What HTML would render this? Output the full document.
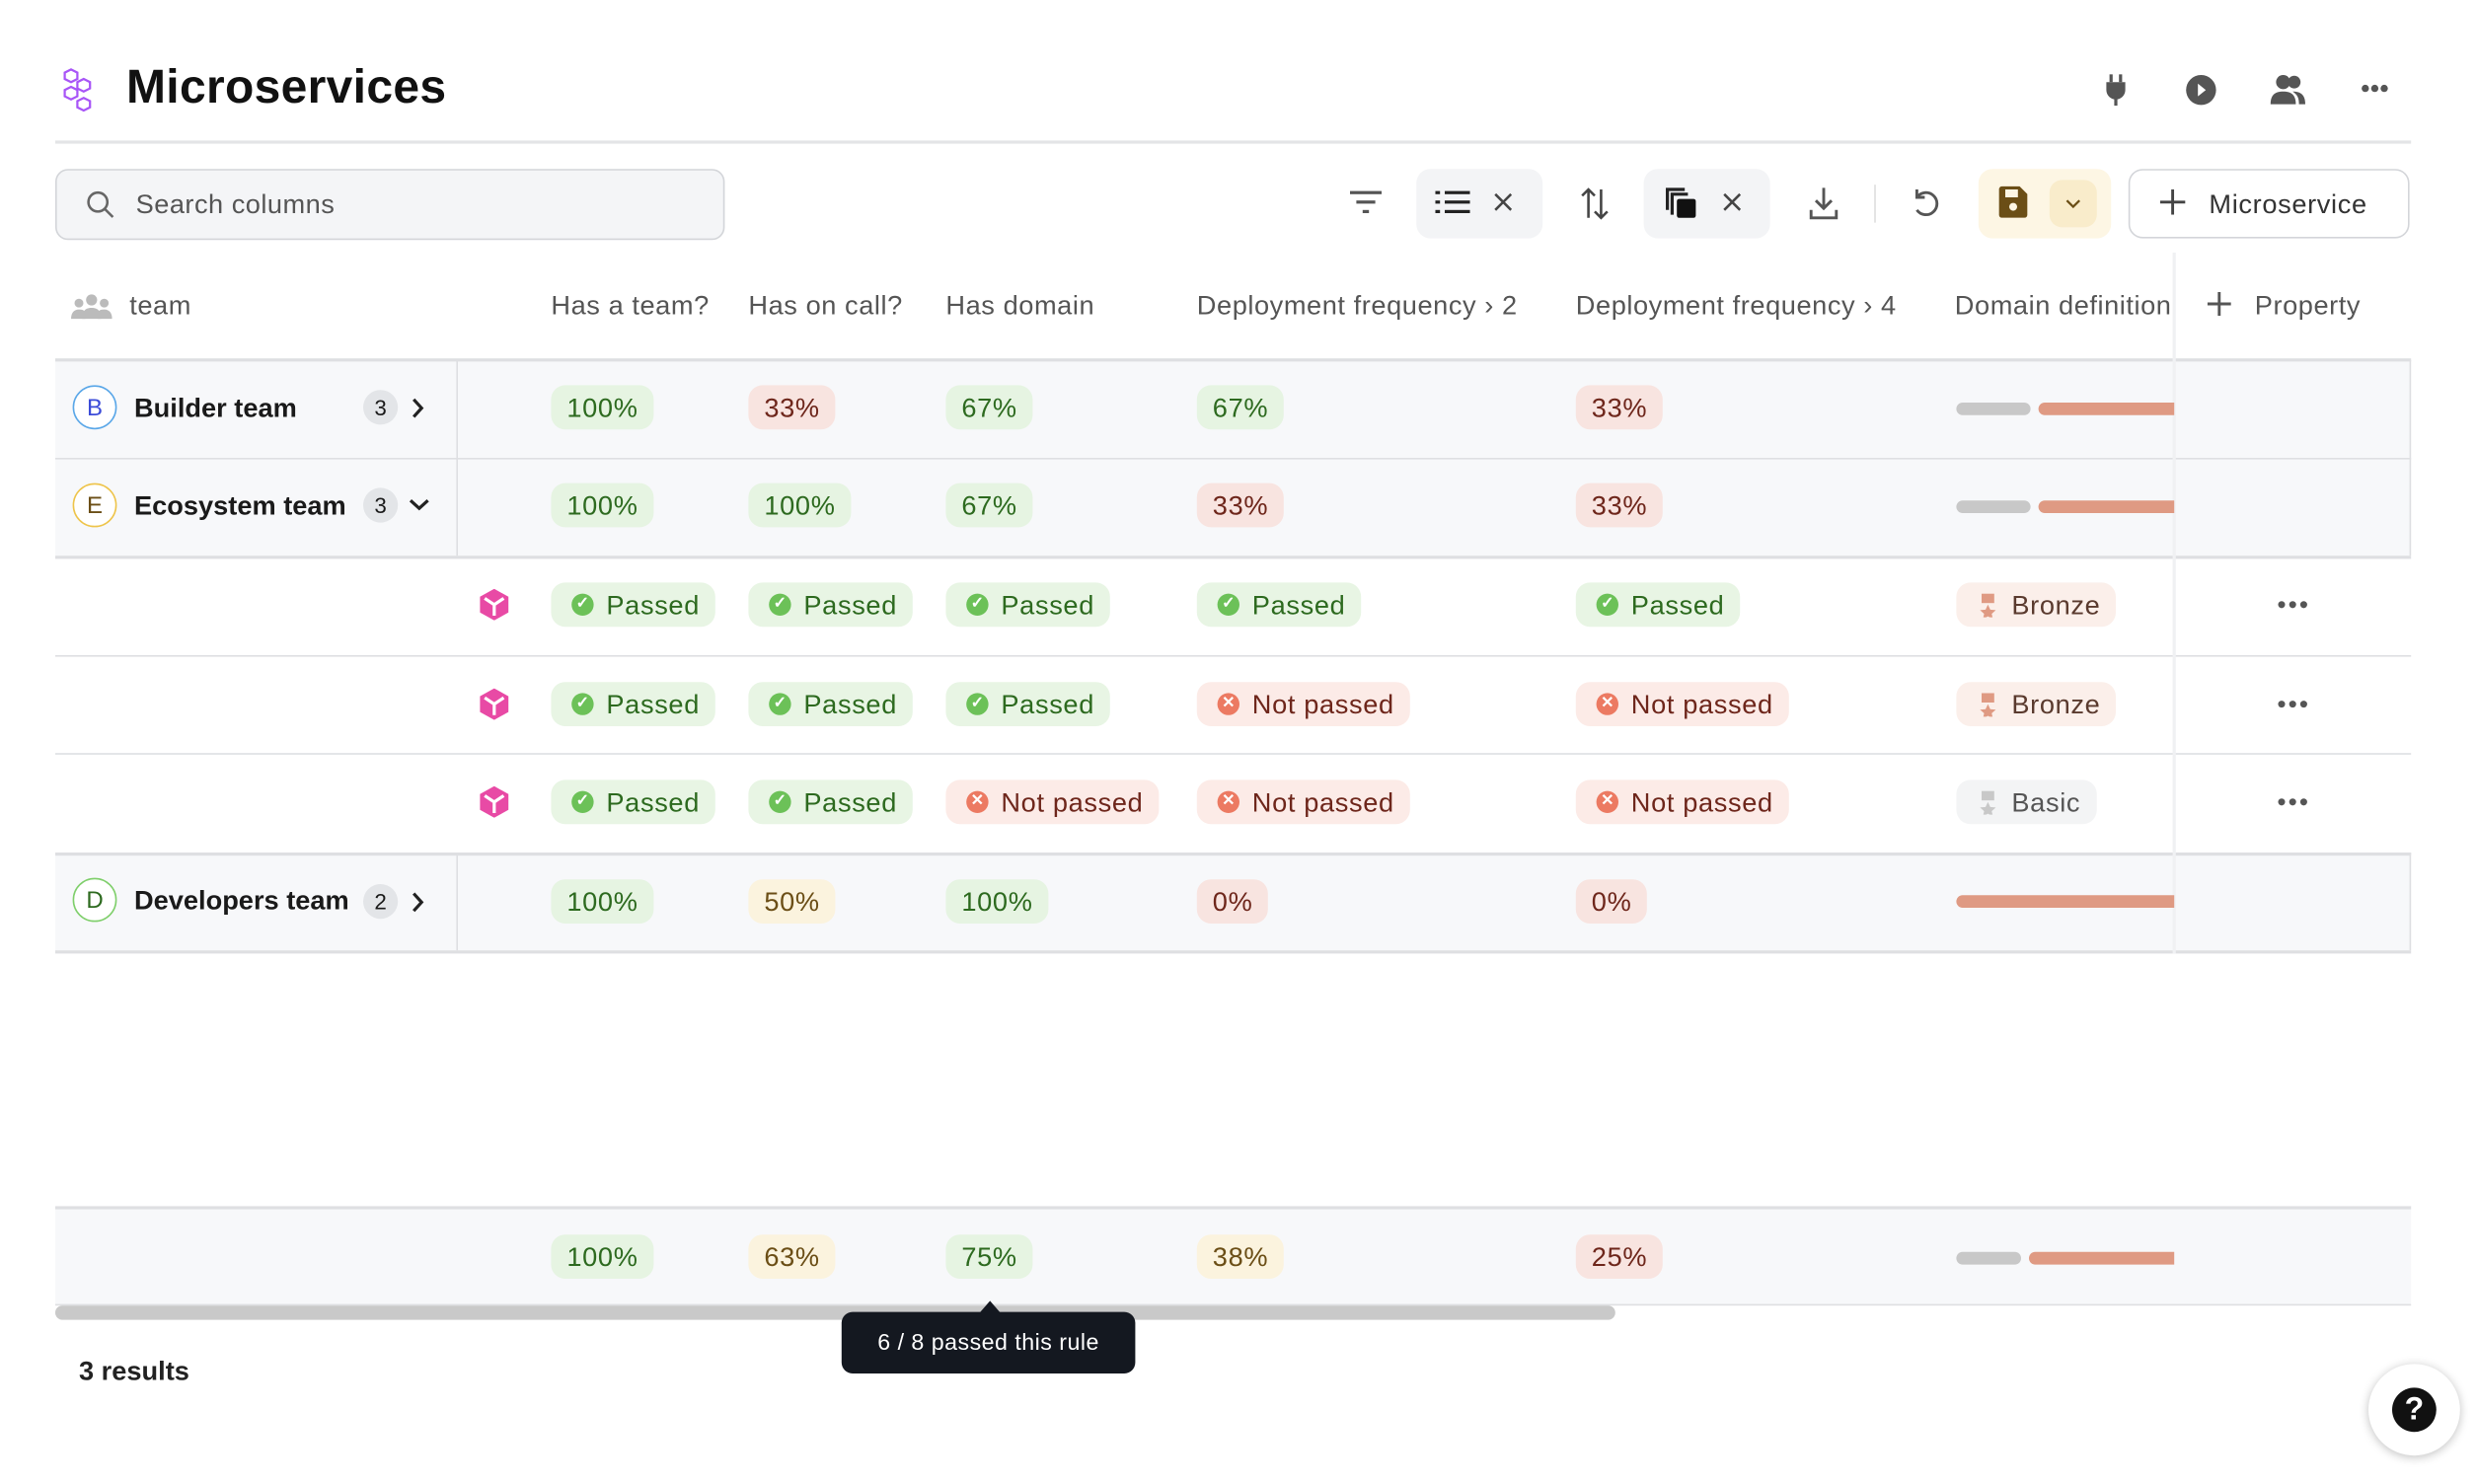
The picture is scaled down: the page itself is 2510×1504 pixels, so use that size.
<!DOCTYPE html>
<html><head><meta charset="utf-8"><style>
html,body{margin:0;padding:0;background:#fff;overflow:hidden}
body{width:2510px;height:1504px;position:relative}
#s{position:absolute;left:0;top:0;width:1569px;height:940px;transform:scale(1.6);transform-origin:0 0;font-family:"Liberation Sans",sans-serif;color:#1a1a1a}
.a{position:absolute}
.hd{position:absolute;top:184px;font-size:17px;letter-spacing:0.35px;color:#555;white-space:nowrap}
.line{position:absolute;left:35px;width:1492px;height:1px;background:#dedfe2}
.grp{position:absolute;left:35px;width:1492px;background:#f7f8fa}
.b{position:absolute;height:28px;line-height:29px;border-radius:9px;padding:0 10px;font-size:17px;letter-spacing:0.4px;white-space:nowrap}
.g{background:#e6f4e2;color:#2d6a1f}
.r{background:#f8e4e0;color:#6e261b}
.y{background:#fbf3de;color:#6b4e16}
.pg{background:#e8f5e4;color:#2d6a1f;padding-left:35px}
.pr{background:#fcebe7;color:#6e261b;padding-left:35px}
.ic{position:absolute;left:13px;top:7px;width:14px;height:14px;border-radius:50%;color:#fff;font-size:10px;line-height:14px;text-align:center;font-weight:bold;letter-spacing:0}
.pg .ic{background:#6cc158}
.pr .ic{background:#ec7a62}
.circ{position:absolute;left:46px;width:26px;height:26px;border-radius:50%;border:1.5px solid;font-size:15px;line-height:27px;text-align:center;background:#fff}
.nm{position:absolute;left:85px;font-size:17px;font-weight:bold;color:#1a1a1a}
.cnt{position:absolute;width:22px;height:22px;border-radius:11px;background:#e3e5e8;font-size:14px;line-height:23px;text-align:center}
.chev{position:absolute}
.cube{position:absolute;left:303px;width:20px;height:20px}
.dots{position:absolute;left:1442px;width:20px;height:6px}
.bar{position:absolute;height:8px;border-radius:4px}
</style></head><body><div id="s">

<!-- title -->
<svg class="a" style="left:40px;top:42px" width="26" height="30" viewBox="0 0 26 30" fill="none" stroke="#a855f7" stroke-width="1.4"><path d="M5 2l4 2v4l-4 2-4-2V4z"/><path d="M13 8l4 2v4l-4 2-4-2v-4z"/><path d="M5 13l4 2v4l-4 2-4-2v-4z"/><path d="M13 20l4 2v4l-4 2-4-2v-4z"/></svg>
<div class="a" style="left:80px;top:39px;font-size:30px;font-weight:bold;letter-spacing:0.2px;color:#111">Microservices</div>
<!-- top right icons -->
<svg class="a" style="left:1331px;top:47px" width="18" height="20" viewBox="0 0 18 20"><rect x="5" y="0" width="2" height="5" fill="#555"/><rect x="11" y="0" width="2" height="5" fill="#555"/><path d="M3 5h12v5a6 6 0 0 1-12 0z" fill="#555"/><rect x="8" y="14" width="2" height="6" fill="#555"/></svg>
<svg class="a" style="left:1384px;top:47px" width="20" height="20"><circle cx="10" cy="10" r="9.5" fill="#555"/><path d="M8 6l5 4-5 4z" fill="#fff"/></svg>
<svg class="a" style="left:1437px;top:47px" width="24" height="20"><circle cx="9" cy="5" r="4.5" fill="#555"/><path d="M1 19c0-6 3-8 8-8s8 2 8 8z" fill="#555"/><circle cx="16" cy="5" r="4" fill="#555"/><path d="M15 11c5 0 8 2 8 8h-4c0-4-1-6-4-8z" fill="#555"/></svg>
<svg class="a" style="left:1495px;top:53px" width="18" height="6" fill="#555"><circle cx="3" cy="3" r="2.3"/><circle cx="9" cy="3" r="2.3"/><circle cx="15" cy="3" r="2.3"/></svg>
<div class="a" style="left:35px;top:89px;width:1492px;height:2px;background:#e3e4e6"></div>

<!-- search -->
<div class="a" style="left:35px;top:107px;width:422px;height:43px;border:1px solid #d3d5d9;border-radius:8px;background:#f4f5f7"></div>
<svg class="a" style="left:54px;top:120px" width="20" height="20" fill="none" stroke="#666" stroke-width="1.6"><circle cx="8" cy="8" r="6"/><path d="M12.5 12.5l5 5"/></svg>
<div class="a" style="left:86px;top:120px;font-size:17px;letter-spacing:0.3px;color:#555">Search columns</div>

<!-- toolbar -->
<svg class="a" style="left:855px;top:120px" width="20" height="16" fill="#555"><rect x="0" y="1" width="20" height="2"/><rect x="4" y="7" width="12" height="2"/><rect x="8" y="13" width="4" height="2"/></svg>
<div class="a" style="left:897px;top:107px;width:80px;height:44px;border-radius:9px;background:#f3f4f6"></div>
<svg class="a" style="left:909px;top:120px" width="22" height="16" fill="#222"><rect x="0" y="1" width="3" height="2"/><rect x="6" y="1" width="16" height="2"/><rect x="0" y="7" width="3" height="2"/><rect x="6" y="7" width="16" height="2"/><rect x="0" y="13" width="3" height="2"/><rect x="6" y="13" width="16" height="2"/></svg>
<svg class="a" style="left:946px;top:122px" width="12" height="12" stroke="#444" stroke-width="1.6"><path d="M1 1l10 10M11 1L1 11"/></svg>
<svg class="a" style="left:1001px;top:118px" width="18" height="22" fill="none" stroke="#444" stroke-width="1.6"><path d="M5 20V2M1 6l4-4 4 4M13 2v18M9 16l4 4 4-4"/></svg>
<div class="a" style="left:1041px;top:107px;width:80px;height:44px;border-radius:9px;background:#f3f4f6"></div>
<svg class="a" style="left:1053px;top:117px" width="22" height="22"><path d="M2 2h12v2H4v12H2z" fill="#222"/><path d="M5 5h11v2H7v12H5z" fill="#222"/><rect x="9" y="9" width="12" height="12" rx="1.5" fill="#111"/></svg>
<svg class="a" style="left:1091px;top:122px" width="12" height="12" stroke="#444" stroke-width="1.6"><path d="M1 1l10 10M11 1L1 11"/></svg>
<svg class="a" style="left:1145px;top:118px" width="20" height="22" fill="none" stroke="#555" stroke-width="1.8"><path d="M10 1v13M5 9l5 5 5-5M2 15v5h16v-5"/></svg>
<div class="a" style="left:1187px;top:117px;width:1px;height:24px;background:#ddd"></div>
<svg class="a" style="left:1210px;top:118px" width="20" height="22" fill="none" stroke="#555" stroke-width="1.8"><path d="M4 7a7 7 0 1 1 0 8"/><path d="M4 2v5h5"/></svg>
<div class="a" style="left:1253px;top:107px;width:84px;height:44px;border-radius:9px;background:#fdf6e4"></div>
<div class="a" style="left:1298px;top:114px;width:30px;height:30px;border-radius:8px;background:#f9eccb"></div>
<svg class="a" style="left:1266px;top:118px" width="18" height="20"><path d="M0 2a2 2 0 0 1 2-2h11l5 5v13a2 2 0 0 1-2 2H2a2 2 0 0 1-2-2z" fill="#6b4e16"/><rect x="4" y="2" width="8" height="5" fill="#fdf6e4"/><circle cx="9" cy="13" r="2.5" fill="#fdf6e4"/></svg>
<svg class="a" style="left:1308px;top:126px" width="10" height="6" fill="none" stroke="#6b4e16" stroke-width="1.4"><path d="M1 1l4 4 4-4"/></svg>
<div class="a" style="left:1348px;top:107px;width:176px;height:42px;border:1.5px solid #d3d5d9;border-radius:9px;background:#fff"></div>
<svg class="a" style="left:1368px;top:120px" width="16" height="16" stroke="#444" stroke-width="1.8"><path d="M8 0v16M0 8h16"/></svg>
<div class="a" style="left:1399px;top:120px;font-size:17px;letter-spacing:0.4px;color:#333">Microservice</div>

<!-- header -->
<svg class="a" style="left:45px;top:186px" width="26" height="16" fill="#bbb"><circle cx="13" cy="4" r="3.5"/><circle cx="5" cy="6" r="2.8"/><circle cx="21" cy="6" r="2.8"/><path d="M7 16c0-5 2-7 6-7s6 2 6 7z"/><path d="M0 16c0-4 2-6 5-6s4 1 4 3v3z"/><path d="M26 16c0-4-2-6-5-6s-4 1-4 3v3z"/></svg>
<div class="hd" style="left:82px">team</div>
<div class="hd" style="left:349px">Has a team?</div>
<div class="hd" style="left:474px">Has on call?</div>
<div class="hd" style="left:599px">Has domain</div>
<div class="hd" style="left:758px">Deployment frequency › 2</div>
<div class="hd" style="left:998px">Deployment frequency › 4</div>
<div class="hd" style="left:1238px;width:138px;overflow:hidden">Domain definition</div>
<svg class="a" style="left:1398px;top:185px" width="15" height="15" stroke="#555" stroke-width="1.8"><path d="M7.5 0v15M0 7.5h15"/></svg>
<div class="hd" style="left:1428px">Property</div>

<!-- rows backgrounds -->
<div class="grp" style="top:228px;height:124px"></div>
<div class="grp" style="top:540px;height:62px"></div>
<div class="line" style="top:227px;height:2px"></div>
<div class="line" style="top:290px"></div>
<div class="line" style="top:352px;height:2px"></div>
<div class="line" style="top:415px"></div>
<div class="line" style="top:477px"></div>
<div class="line" style="top:540px;height:2px"></div>
<div class="line" style="top:602px;height:2px"></div>
<div class="a" style="left:289px;top:228px;width:1px;height:124px;background:#dedfe2"></div>
<div class="a" style="left:289px;top:540px;width:1px;height:62px;background:#dedfe2"></div>
<div class="a" style="left:1376px;top:160px;width:2px;height:444px;background:#f0f1f3"></div>
<div class="a" style="left:1376px;top:765px;width:2px;height:61px;background:#eceef0"></div>
<div class="a" style="left:1526px;top:228px;width:1px;height:124px;background:#dedfe2"></div>
<div class="a" style="left:1526px;top:540px;width:1px;height:62px;background:#dedfe2"></div>

<!-- Builder -->
<div class="circ" style="top:244px;border-color:#5aa7e8;color:#3b4bd8">B</div>
<div class="nm" style="top:249px">Builder team</div>
<div class="cnt" style="left:230px;top:247px">3</div>
<svg class="chev" style="left:261px;top:252px" width="8" height="13" fill="none" stroke="#222" stroke-width="2"><path d="M1 1l5 5.5L1 12"/></svg>
<div class="b g" style="left:349px;top:244px">100%</div>
<div class="b r" style="left:474px;top:244px">33%</div>
<div class="b g" style="left:599px;top:244px">67%</div>
<div class="b g" style="left:758px;top:244px">67%</div>
<div class="b r" style="left:998px;top:244px">33%</div>
<div class="bar" style="left:1239px;top:255px;width:47px;background:#c8c8c8"></div>
<div class="bar" style="left:1291px;top:255px;width:86px;background:#df9a83;border-radius:4px 0 0 4px"></div>

<!-- Ecosystem -->
<div class="circ" style="top:306px;border-color:#eec44a;color:#6b4e16">E</div>
<div class="nm" style="top:311px">Ecosystem team</div>
<div class="cnt" style="left:230px;top:309px">3</div>
<svg class="chev" style="left:259px;top:316px" width="13" height="8" fill="none" stroke="#222" stroke-width="2"><path d="M1 1l5.5 5L12 1"/></svg>
<div class="b g" style="left:349px;top:306px">100%</div>
<div class="b g" style="left:474px;top:306px">100%</div>
<div class="b g" style="left:599px;top:306px">67%</div>
<div class="b r" style="left:758px;top:306px">33%</div>
<div class="b r" style="left:998px;top:306px">33%</div>
<div class="bar" style="left:1239px;top:317px;width:47px;background:#c8c8c8"></div>
<div class="bar" style="left:1291px;top:317px;width:86px;background:#df9a83;border-radius:4px 0 0 4px"></div>

<!-- service rows -->
<svg class="cube" style="top:373px" viewBox="0 0 20 20"><path d="M10 0l9 5v10l-9 5-9-5V5z" fill="#e84aa5"/><path d="M4 6l6 4 6-4M10 10v7" stroke="#fff" stroke-width="2" fill="none"/></svg>
<div class="b pg" style="left:349px;top:369px"><span class="ic">✓</span>Passed</div>
<div class="b pg" style="left:474px;top:369px"><span class="ic">✓</span>Passed</div>
<div class="b pg" style="left:599px;top:369px"><span class="ic">✓</span>Passed</div>
<div class="b pg" style="left:758px;top:369px"><span class="ic">✓</span>Passed</div>
<div class="b pg" style="left:998px;top:369px"><span class="ic">✓</span>Passed</div>
<div class="b" style="left:1239px;top:369px;background:#fbefea;color:#5a3a2e;padding-left:35px"><svg class="a" style="left:15px;top:7px" width="10" height="15" fill="#df9a83"><rect x="1" y="0" width="8" height="6"/><path d="M5 7l1.5 3.2 3.5.3-2.6 2.3.8 3.4L5 14.4 1.8 16.2l.8-3.4L0 10.5l3.5-.3z"/></svg>Bronze</div>
<svg class="dots" style="top:380px" viewBox="0 0 20 6" fill="#555"><circle cx="3" cy="3" r="2.2"/><circle cx="10" cy="3" r="2.2"/><circle cx="17" cy="3" r="2.2"/></svg>

<svg class="cube" style="top:436px" viewBox="0 0 20 20"><path d="M10 0l9 5v10l-9 5-9-5V5z" fill="#e84aa5"/><path d="M4 6l6 4 6-4M10 10v7" stroke="#fff" stroke-width="2" fill="none"/></svg>
<div class="b pg" style="left:349px;top:432px"><span class="ic">✓</span>Passed</div>
<div class="b pg" style="left:474px;top:432px"><span class="ic">✓</span>Passed</div>
<div class="b pg" style="left:599px;top:432px"><span class="ic">✓</span>Passed</div>
<div class="b pr" style="left:758px;top:432px"><span class="ic">✕</span>Not passed</div>
<div class="b pr" style="left:998px;top:432px"><span class="ic">✕</span>Not passed</div>
<div class="b" style="left:1239px;top:432px;background:#fbefea;color:#5a3a2e;padding-left:35px"><svg class="a" style="left:15px;top:7px" width="10" height="15" fill="#df9a83"><rect x="1" y="0" width="8" height="6"/><path d="M5 7l1.5 3.2 3.5.3-2.6 2.3.8 3.4L5 14.4 1.8 16.2l.8-3.4L0 10.5l3.5-.3z"/></svg>Bronze</div>
<svg class="dots" style="top:443px" viewBox="0 0 20 6" fill="#555"><circle cx="3" cy="3" r="2.2"/><circle cx="10" cy="3" r="2.2"/><circle cx="17" cy="3" r="2.2"/></svg>

<svg class="cube" style="top:498px" viewBox="0 0 20 20"><path d="M10 0l9 5v10l-9 5-9-5V5z" fill="#e84aa5"/><path d="M4 6l6 4 6-4M10 10v7" stroke="#fff" stroke-width="2" fill="none"/></svg>
<div class="b pg" style="left:349px;top:494px"><span class="ic">✓</span>Passed</div>
<div class="b pg" style="left:474px;top:494px"><span class="ic">✓</span>Passed</div>
<div class="b pr" style="left:599px;top:494px"><span class="ic">✕</span>Not passed</div>
<div class="b pr" style="left:758px;top:494px"><span class="ic">✕</span>Not passed</div>
<div class="b pr" style="left:998px;top:494px"><span class="ic">✕</span>Not passed</div>
<div class="b" style="left:1239px;top:494px;background:#f3f4f5;color:#555;padding-left:35px"><svg class="a" style="left:15px;top:7px" width="10" height="15" fill="#c8c8c8"><rect x="1" y="0" width="8" height="6"/><path d="M5 7l1.5 3.2 3.5.3-2.6 2.3.8 3.4L5 14.4 1.8 16.2l.8-3.4L0 10.5l3.5-.3z"/></svg>Basic</div>
<svg class="dots" style="top:505px" viewBox="0 0 20 6" fill="#555"><circle cx="3" cy="3" r="2.2"/><circle cx="10" cy="3" r="2.2"/><circle cx="17" cy="3" r="2.2"/></svg>

<!-- Developers -->
<div class="circ" style="top:556px;border-color:#7fcf6b;color:#2d6a1f">D</div>
<div class="nm" style="top:561px">Developers team</div>
<div class="cnt" style="left:230px;top:560px">2</div>
<svg class="chev" style="left:261px;top:565px" width="8" height="13" fill="none" stroke="#222" stroke-width="2"><path d="M1 1l5 5.5L1 12"/></svg>
<div class="b g" style="left:349px;top:557px">100%</div>
<div class="b y" style="left:474px;top:557px">50%</div>
<div class="b g" style="left:599px;top:557px">100%</div>
<div class="b r" style="left:758px;top:557px">0%</div>
<div class="b r" style="left:998px;top:557px">0%</div>
<div class="bar" style="left:1239px;top:567px;width:138px;background:#df9a83;border-radius:4px 0 0 4px"></div>

<!-- footer -->
<div class="grp" style="top:765px;height:61px"></div>
<div class="line" style="top:764px;height:2px"></div>
<div class="line" style="top:826px"></div>
<div class="b g" style="left:349px;top:782px">100%</div>
<div class="b y" style="left:474px;top:782px">63%</div>
<div class="b g" style="left:599px;top:782px">75%</div>
<div class="b y" style="left:758px;top:782px">38%</div>
<div class="b r" style="left:998px;top:782px">25%</div>
<div class="bar" style="left:1239px;top:793px;width:41px;background:#c8c8c8"></div>
<div class="bar" style="left:1285px;top:793px;width:92px;background:#df9a83;border-radius:4px 0 0 4px"></div>
<div class="a" style="left:35px;top:827px;width:988px;height:9px;border-radius:5px;background:#c9c9c9"></div>

<!-- tooltip -->
<div class="a" style="left:620px;top:824px;width:0;height:0;border-left:7px solid transparent;border-right:7px solid transparent;border-bottom:8px solid #141820"></div>
<div class="a" style="left:533px;top:831px;width:186px;height:39px;border-radius:7px;background:#141820;color:#fff;font-size:14.5px;letter-spacing:0.3px;line-height:40px;text-align:center">6 / 8 passed this rule</div>

<div class="a" style="left:50px;top:859px;font-size:17px;font-weight:bold;color:#222">3 results</div>

<div class="a" style="left:1500px;top:864px;width:58px;height:58px;border-radius:50%;background:#fff;box-shadow:0 1px 6px rgba(0,0,0,.25)"></div>
<div class="a" style="left:1515px;top:879px;width:28px;height:28px;border-radius:50%;background:#111;color:#fff;font-size:20px;font-weight:bold;line-height:29px;text-align:center">?</div>

</div></body></html>
